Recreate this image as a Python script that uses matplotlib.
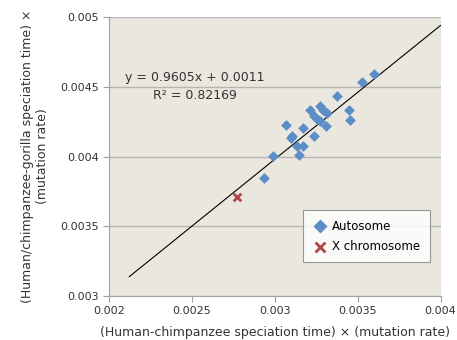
import numpy as np
import matplotlib
matplotlib.use('Agg')
import matplotlib.pyplot as plt

# Autosome points (x = human-chimp, y = human/chimp-gorilla)
auto_x = [0.00360, 0.003523, 0.003374, 0.003209, 0.003270, 0.003292, 0.003312,
          0.003445, 0.003455, 0.003070, 0.003237, 0.003252, 0.003270, 0.003310,
          0.003169, 0.003237, 0.003103, 0.003095, 0.003131, 0.003167, 0.003147,
          0.002990, 0.002936]
auto_y = [0.004593, 0.004533, 0.004437, 0.004337, 0.004360, 0.004332, 0.004315,
          0.004334, 0.004260, 0.004226, 0.004289, 0.004272, 0.004257, 0.004219,
          0.004205, 0.004150, 0.004147, 0.004131, 0.004078, 0.004075, 0.004011,
          0.004006, 0.003848]
xchr_x = [0.002769]
xchr_y = [0.003711]

slope = 0.9605
intercept = 0.0011
r2 = 0.82169
trend_x = [0.002121, 0.004]

xticks = [0.002, 0.0025, 0.003, 0.0035, 0.004]
yticks = [0.003, 0.0035, 0.004, 0.0045, 0.005]

fig = plt.figure(figsize=(4.57, 3.4), dpi=100)
ax = fig.add_axes([0.239, 0.130, 0.725, 0.819])
ax.set_facecolor('#EAE7DF')

ax.set_xlim(0.002, 0.004)
ax.set_ylim(0.003, 0.005)
ax.set_xticks(xticks)
ax.set_yticks(yticks)
ax.set_xticklabels([str(v) for v in xticks])
ax.set_yticklabels([str(v) for v in yticks])
ax.yaxis.grid(True, color='#B5B5B5', linewidth=1.0)
ax.set_axisbelow(True)

for s in ['top', 'right']:
    ax.spines[s].set_visible(False)
for s in ['left', 'bottom']:
    ax.spines[s].set_color('#A0A0A0')
ax.tick_params(direction='out', length=4, color='#A0A0A0', labelsize=8,
               labelcolor='#333333')

tx = np.array(trend_x)
ax.plot(tx, slope * tx + intercept, color='black', linewidth=0.8, zorder=2)

ax.scatter(auto_x, auto_y, marker='D', s=30, color='#5B8DC6', label='Autosome',
           zorder=3, linewidths=0)
ax.scatter(xchr_x, xchr_y, marker='x', s=30, color='#B04848', label='X chromosome',
           zorder=3, linewidths=2)

ax.text(0.002517, 0.004571, 'y = 0.9605x + 0.0011', fontsize=9, color='#333333',
        ha='center', va='center')
ax.text(0.002517, 0.004442, 'R² = 0.82169', fontsize=9, color='#333333',
        ha='center', va='center')

leg = ax.legend(loc='lower right', bbox_to_anchor=(0.985, 0.10), fontsize=8.5,
                frameon=True, fancybox=False, handletextpad=0.3,
                borderpad=0.8, labelspacing=0.6, handlelength=1.4,
                markerscale=1.3)
leg.get_frame().set_edgecolor('#808080')
leg.get_frame().set_facecolor('white')
leg.get_frame().set_linewidth(0.8)

ax.set_xlabel('(Human-chimpanzee speciation time) × (mutation rate)',
              fontsize=9, color='#333333', labelpad=7)
ax.set_ylabel('(Human/chimpanzee-gorilla speciation time) ×\n(mutation rate)',
              fontsize=9, color='#333333', labelpad=8)

fig.savefig('out.png', dpi=100, facecolor='white')
